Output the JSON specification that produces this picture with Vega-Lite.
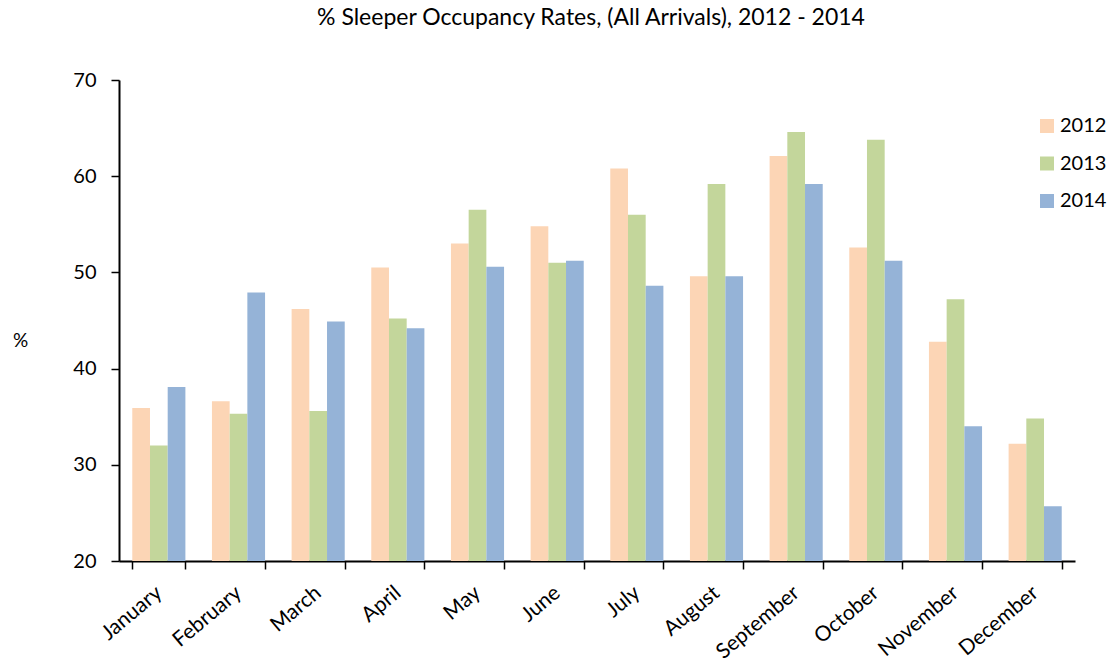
{
  "$schema": "https://vega.github.io/schema/vega-lite/v6.json",
  "autosize": {"type": "none"},
  "padding": {"left": 119, "top": 80, "right": 37, "bottom": 103},
  "width": 956,
  "height": 481,
  "background": "white",
  "title": {
    "text": "% Sleeper Occupancy Rates, (All Arrivals), 2012 - 2014",
    "font": "Lato",
    "fontSize": 23,
    "fontWeight": "normal",
    "color": "black",
    "anchor": "middle",
    "offset": 40,
    "dx": -6
  },
  "data": {
    "values": [
      {"month": "January", "year": "2012", "value": 35.9},
      {"month": "January", "year": "2013", "value": 32.0},
      {"month": "January", "year": "2014", "value": 38.1},
      {"month": "February", "year": "2012", "value": 36.6},
      {"month": "February", "year": "2013", "value": 35.3},
      {"month": "February", "year": "2014", "value": 47.9},
      {"month": "March", "year": "2012", "value": 46.2},
      {"month": "March", "year": "2013", "value": 35.6},
      {"month": "March", "year": "2014", "value": 44.9},
      {"month": "April", "year": "2012", "value": 50.5},
      {"month": "April", "year": "2013", "value": 45.2},
      {"month": "April", "year": "2014", "value": 44.2},
      {"month": "May", "year": "2012", "value": 53.0},
      {"month": "May", "year": "2013", "value": 56.5},
      {"month": "May", "year": "2014", "value": 50.6},
      {"month": "June", "year": "2012", "value": 54.8},
      {"month": "June", "year": "2013", "value": 51.0},
      {"month": "June", "year": "2014", "value": 51.2},
      {"month": "July", "year": "2012", "value": 60.8},
      {"month": "July", "year": "2013", "value": 56.0},
      {"month": "July", "year": "2014", "value": 48.6},
      {"month": "August", "year": "2012", "value": 49.6},
      {"month": "August", "year": "2013", "value": 59.2},
      {"month": "August", "year": "2014", "value": 49.6},
      {"month": "September", "year": "2012", "value": 62.1},
      {"month": "September", "year": "2013", "value": 64.6},
      {"month": "September", "year": "2014", "value": 59.2},
      {"month": "October", "year": "2012", "value": 52.6},
      {"month": "October", "year": "2013", "value": 63.8},
      {"month": "October", "year": "2014", "value": 51.2},
      {"month": "November", "year": "2012", "value": 42.8},
      {"month": "November", "year": "2013", "value": 47.2},
      {"month": "November", "year": "2014", "value": 34.0},
      {"month": "December", "year": "2012", "value": 32.2},
      {"month": "December", "year": "2013", "value": 34.8},
      {"month": "December", "year": "2014", "value": 25.7}
    ]
  },
  "mark": {"type": "bar", "clip": true},
  "encoding": {
    "x": {
      "field": "month",
      "type": "nominal",
      "sort": ["January","February","March","April","May","June","July","August","September","October","November","December"],
      "scale": {"paddingInner": 0.3333, "paddingOuter": 0.1667},
      "axis": {
        "title": null,
        "tickBand": "extent",
        "labelAngle": -40,
        "labelAlign": "right",
        "labelBaseline": "middle",
        "labelPadding": 21,
        "labelFont": "Lato",
        "labelFontSize": 21,
        "labelColor": "black",
        "domainColor": "black",
        "domainWidth": 2,
        "tickColor": "black",
        "tickWidth": 1.5,
        "tickSize": 8
      }
    },
    "xOffset": {
      "field": "year",
      "type": "nominal",
      "scale": {"paddingInner": 0, "paddingOuter": 0}
    },
    "y": {
      "field": "value",
      "type": "quantitative",
      "scale": {"domain": [20, 70], "zero": false, "nice": false},
      "axis": {
        "values": [20, 30, 40, 50, 60, 70],
        "grid": false,
        "title": "%",
        "titleAngle": 0,
        "titleX": -99,
        "titleY": 260,
        "titleAlign": "center",
        "titleBaseline": "middle",
        "titleFont": "Lato",
        "titleFontSize": 19,
        "titleFontWeight": "normal",
        "titleColor": "black",
        "labelFont": "Lato",
        "labelFontSize": 20,
        "labelColor": "black",
        "labelPadding": 15,
        "domainColor": "black",
        "domainWidth": 2,
        "tickColor": "black",
        "tickWidth": 1.5,
        "tickSize": 8
      }
    },
    "color": {
      "field": "year",
      "type": "nominal",
      "scale": {"domain": ["2012", "2013", "2014"], "range": ["#FCD5B5", "#C3D69B", "#95B3D7"]},
      "legend": {
        "title": null,
        "orient": "none",
        "legendX": 918,
        "legendY": 36,
        "symbolType": "square",
        "symbolSize": 196,
        "symbolStrokeWidth": 0,
        "labelFont": "Lato",
        "labelFontSize": 20,
        "labelColor": "black",
        "labelOffset": 3,
        "rowPadding": 17.5,
        "padding": 0
      }
    }
  },
  "config": {
    "view": {"stroke": null}
  }
}
